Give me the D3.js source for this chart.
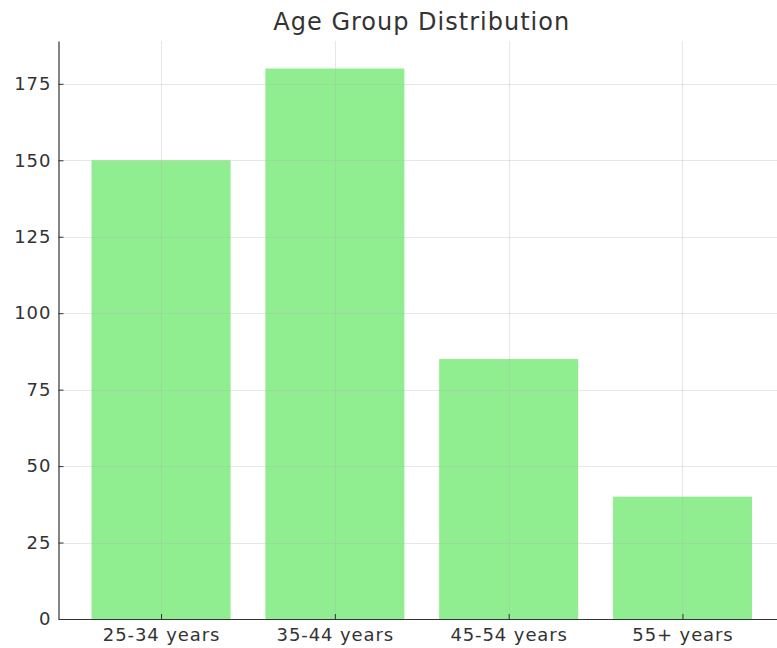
<!DOCTYPE html>
<html>
<head>
<meta charset="utf-8">
<script src="https://cdn.jsdelivr.net/npm/d3@7"></script>
<style>
  html, body { margin: 0; padding: 0; background: #fff; }
  svg { display: block; font-family: "DejaVu Sans", sans-serif; }
</style>
</head>
<body>
<svg id="chart" width="777" height="648"></svg>
<script>
const categories = ["25-34 years", "35-44 years", "45-54 years", "55+ years"];
const values = [150, 180, 85, 40];
const yTicks = [0, 25, 50, 75, 100, 125, 150, 175];
const title = "Age Group Distribution";

(function () {
const svg = d3.select("#chart");
const mLeft = 58.5, mRight = 785, mTop = 41, mBottom = 619;

const x = d3.scaleLinear().domain([-0.59, 3.59]).range([mLeft, mRight]);
const y = d3.scaleLinear().domain([0, 189]).range([mBottom, mTop]);
const barW = x(0.8) - x(0);

// bars
svg.append("g").selectAll("rect").data(values).join("rect")
  .attr("x", (d, i) => x(i - 0.4))
  .attr("y", d => y(d))
  .attr("width", barW)
  .attr("height", d => y(0) - y(d))
  .attr("fill", "#90ee90");

// grid
const grid = svg.append("g").attr("stroke", "#b0b0b0").attr("stroke-opacity", 0.3).attr("stroke-width", 1);
grid.selectAll("line.h").data(yTicks.filter(t => t > 0)).join("line")
  .attr("x1", mLeft).attr("x2", mRight)
  .attr("y1", d => Math.round(y(d)) + 0.5).attr("y2", d => Math.round(y(d)) + 0.5);
grid.selectAll("line.v").data(categories).join("line")
  .attr("x1", (d, i) => Math.round(x(i)) + 0.5).attr("x2", (d, i) => Math.round(x(i)) + 0.5)
  .attr("y1", mTop).attr("y2", mBottom);

// y axis
const yAxis = d3.axisLeft(y).tickValues(yTicks).tickSizeInner(-5).tickSizeOuter(0).tickPadding(7);
const gy = svg.append("g").attr("transform", `translate(${mLeft},0)`).call(yAxis);
gy.select(".domain").attr("stroke", "#333").attr("stroke-width", 1.2);
gy.selectAll(".tick line").attr("stroke", "#333");
gy.selectAll(".tick text").attr("font-size", 18).attr("fill", "#333")
  .attr("font-family", "DejaVu Sans").attr("letter-spacing", 1);

// x axis
const xAxis = d3.axisBottom(x).tickValues(d3.range(categories.length))
  .tickFormat(i => categories[i]).tickSizeInner(-5).tickSizeOuter(0).tickPadding(9);
const gx = svg.append("g").attr("transform", `translate(0,${mBottom})`).call(xAxis);
gx.select(".domain").attr("stroke", "#333").attr("stroke-width", 1.2);
gx.selectAll(".tick line").attr("stroke", "#333");
gx.selectAll(".tick text").attr("font-size", 18).attr("fill", "#333")
  .attr("font-family", "DejaVu Sans").attr("letter-spacing", 0.9);

svg.append("text").attr("x", (mLeft + mRight) / 2).attr("y", 30)
  .attr("text-anchor", "middle").attr("font-size", 24).attr("fill", "#333")
  .attr("letter-spacing", 1)
  .text(title);
})();
</script>
</body>
</html>
